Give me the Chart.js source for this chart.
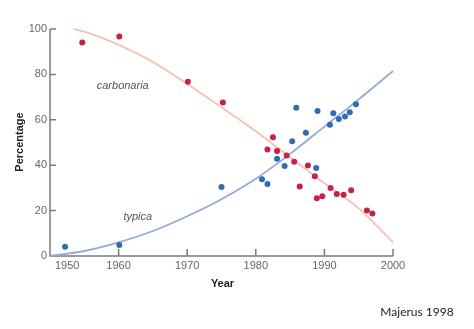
<!DOCTYPE html>
<html>
<head>
<meta charset="utf-8">
<title>Peppered moth morphs</title>
<script src="https://cdn.jsdelivr.net/npm/chart.js@4.4.1/dist/chart.umd.min.js"></script>
<style>
  html, body { margin: 0; padding: 0; background: #fff; }
  #wrap { position: relative; width: 474px; height: 329px; }
</style>
</head>
<body>
<div id="wrap"><canvas id="mothChart" width="474" height="329"></canvas></div>
<script>
  // axis ticks
  var xTicks = [1950, 1960, 1970, 1980, 1990, 2000];
  var yTicks = [0, 20, 40, 60, 80, 100];

  // carbonaria samples (year, % of population)
  var carbonariaYears = [1954.7, 1960.1, 1970.1, 1975.2, 1981.7, 1982.5, 1983.1, 1984.5, 1985.6, 1986.4,
                         1987.6, 1988.6, 1988.9, 1989.7, 1990.9, 1991.8, 1992.8, 1993.9, 1996.2, 1997.0];
  var carbonariaValues = [94.1, 96.7, 76.8, 67.6, 46.9, 52.3, 46.3, 44.3, 41.5, 30.6,
                          39.9, 35.1, 25.4, 26.3, 30.0, 27.3, 27.0, 29.0, 20.0, 18.7];

  // typica samples
  var typicaYears = [1952.2, 1960.1, 1975.0, 1980.9, 1981.7, 1983.1, 1984.2, 1985.3, 1985.9,
                     1987.3, 1988.8, 1989.0, 1990.8, 1991.3, 1992.1, 1993.0, 1993.7, 1994.6];
  var typicaValues = [4.1, 4.8, 30.4, 33.8, 31.7, 42.8, 39.7, 50.5, 65.3,
                      54.3, 38.8, 63.9, 57.8, 62.9, 60.3, 61.5, 63.3, 66.8];

  // fitted trend curves
  var carbonariaFitYears = [1953.4, 1955, 1960, 1965, 1970, 1975, 1980, 1985, 1990, 1995, 2000];
  var carbonariaFitValues = [100, 98.8, 93, 85.5, 75.8, 65.5, 55, 43.5, 32, 21, 6];
  var typicaFitYears = [1950, 1955, 1960, 1965, 1970, 1975, 1980, 1985, 1990, 1995, 2000];
  var typicaFitValues = [0, 2.2, 6, 11, 17.5, 25, 34, 45, 57, 69, 81.5];

  function toPoints(xs, ys) {
    return xs.map(function (v, i) { return { x: v, y: ys[i] }; });
  }

  var narrow = "'Liberation Sans Narrow', 'Liberation Sans', Arial, sans-serif";

  // hand-drawn axes: inward ticks, offset first year label, titles, curve names
  var axesPlugin = {
    id: 'axes',
    beforeDatasetsDraw: function (chart) {
      var ctx = chart.ctx, a = chart.chartArea, x = chart.scales.x, y = chart.scales.y;
      ctx.save();
      ctx.strokeStyle = '#7b7b7b';
      ctx.lineWidth = 1.5;
      ctx.beginPath();
      ctx.moveTo(a.left, a.top);
      ctx.lineTo(a.left, a.bottom);
      ctx.lineTo(a.right, a.bottom);
      yTicks.forEach(function (v) {
        var py = y.getPixelForValue(v);
        ctx.moveTo(a.left, py);
        ctx.lineTo(a.left + 6, py);
      });
      xTicks.slice(1).forEach(function (v) {
        var px = x.getPixelForValue(v);
        ctx.moveTo(px, a.bottom);
        ctx.lineTo(px, a.bottom - 7);
      });
      ctx.stroke();

      ctx.fillStyle = '#666';
      ctx.font = '11px ' + narrow;
      ctx.textBaseline = 'middle';
      ctx.textAlign = 'right';
      yTicks.forEach(function (v) {
        ctx.fillText(String(v), a.left - 3, y.getPixelForValue(v));
      });
      xTicks.forEach(function (v, i) {
        var px = x.getPixelForValue(v);
        if (i === 0) {
          ctx.textAlign = 'left';
          ctx.fillText(String(v), px + 5, a.bottom + 10);
        } else {
          ctx.textAlign = 'center';
          ctx.fillText(String(v), px, a.bottom + 10);
        }
      });

      ctx.fillStyle = '#222';
      ctx.font = 'bold 11px ' + narrow;
      ctx.textAlign = 'center';
      ctx.fillText('Year', (a.left + a.right) / 2 + 1, a.bottom + 28);
      ctx.save();
      ctx.translate(20, 142);
      ctx.rotate(-Math.PI / 2);
      ctx.fillText('Percentage', 0, 0);
      ctx.restore();

      ctx.fillStyle = '#555';
      ctx.font = 'italic 11px "Liberation Sans", Arial, sans-serif';
      ctx.fillText('carbonaria', x.getPixelForValue(1960.6), y.getPixelForValue(75.1));
      ctx.fillText('typica', x.getPixelForValue(1962.8), y.getPixelForValue(17.2));

      ctx.fillStyle = '#222';
      ctx.font = '12px Lato, "Open Sans", sans-serif';
      ctx.fillText('Majerus 1998', 417, 312);
      ctx.restore();
    }
  };

  var ctx = document.getElementById('mothChart').getContext('2d');
  var mothChart = new Chart(ctx, {
    type: 'scatter',
    data: {
      datasets: [
        {
          label: 'carbonaria',
          data: toPoints(carbonariaYears, carbonariaValues),
          backgroundColor: '#c91f4b',
          borderWidth: 0,
          pointRadius: 3,
          clip: false,
          order: 0
        },
        {
          label: 'typica',
          data: toPoints(typicaYears, typicaValues),
          backgroundColor: '#2f6db3',
          borderWidth: 0,
          pointRadius: 3,
          clip: false,
          order: 0
        },
        {
          label: 'carbonaria fit',
          type: 'line',
          data: toPoints(carbonariaFitYears, carbonariaFitValues),
          borderColor: '#f4c2ae',
          borderWidth: 1.8,
          pointRadius: 0,
          cubicInterpolationMode: 'monotone',
          fill: false,
          clip: false,
          order: 1
        },
        {
          label: 'typica fit',
          type: 'line',
          data: toPoints(typicaFitYears, typicaFitValues),
          borderColor: '#93abd9',
          borderWidth: 1.8,
          pointRadius: 0,
          cubicInterpolationMode: 'monotone',
          fill: false,
          clip: false,
          order: 1
        }
      ]
    },
    options: {
      responsive: false,
      animation: false,
      layout: { padding: { left: 50, right: 81, top: 29, bottom: 73 } },
      scales: {
        x: { type: 'linear', min: 1950, max: 2000, display: false },
        y: { min: 0, max: 100, display: false }
      },
      plugins: {
        legend: { display: false },
        tooltip: { enabled: false }
      }
    },
    plugins: [axesPlugin]
  });
</script>
</body>
</html>
